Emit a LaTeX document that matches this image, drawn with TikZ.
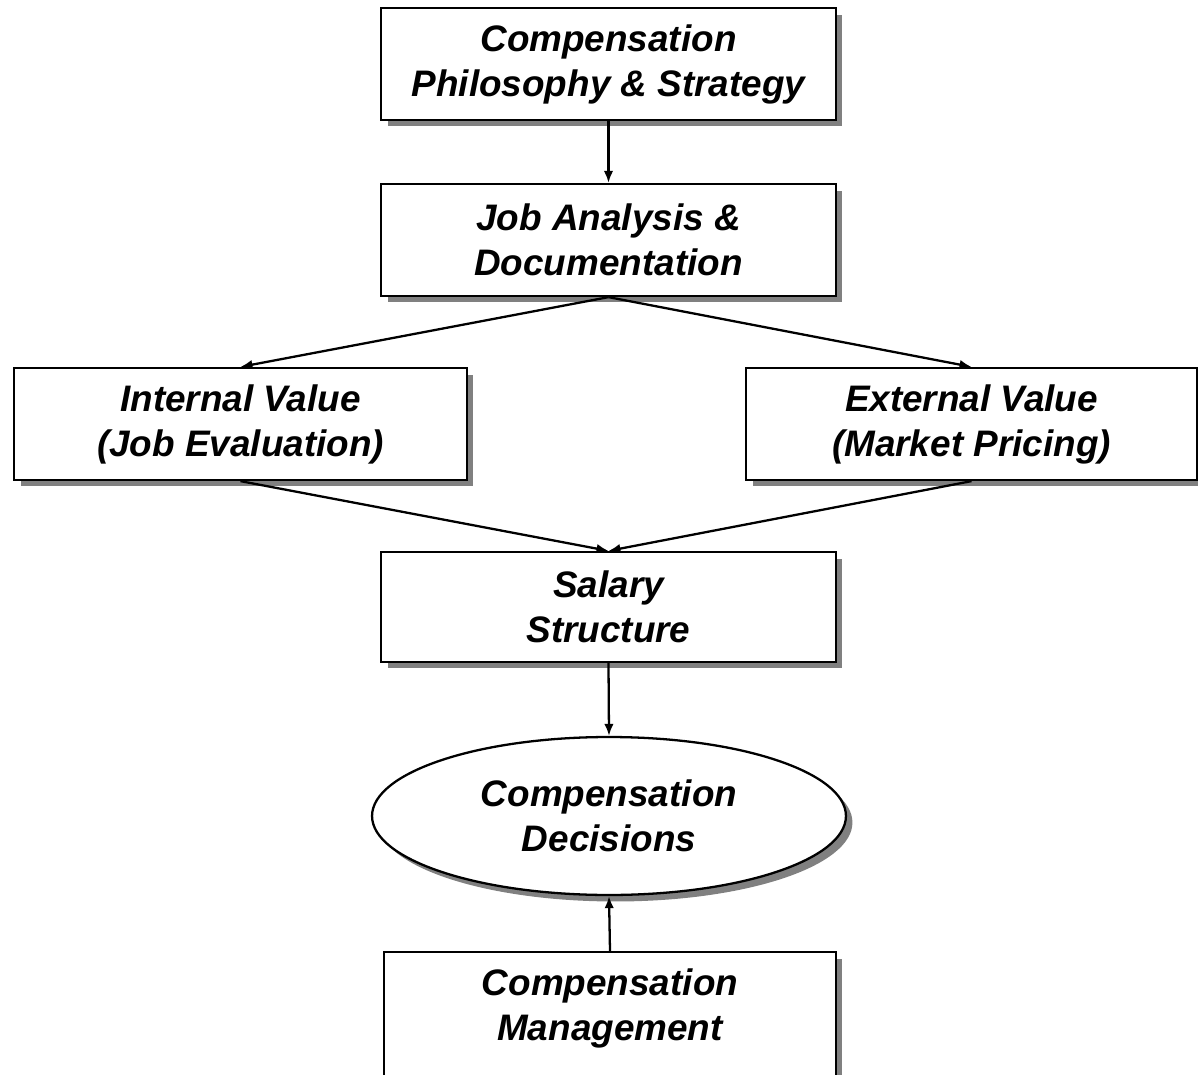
\documentclass[tikz,border=0pt]{standalone}
\usepackage{fontspec}
\setmainfont{Liberation Sans}
\usetikzlibrary{arrows.meta,shadows,shapes.geometric}
\definecolor{ShadowGray}{RGB}{128,128,128}

\begin{document}
\begin{tikzpicture}[x=0.02cm,y=-0.02cm,
    box/.style={draw,line width=1.3pt,fill=white,align=center,
      minimum width=9.1cm,minimum height=2.24cm,inner sep=0pt,
      font=\fontsize{21}{25.6}\selectfont\bfseries\itshape,
      drop shadow={shadow xshift=0.13cm,shadow yshift=-0.13cm,fill=ShadowGray,opacity=1}},
    link/.style={line width=1.3pt,-{Latex[length=0.24cm,width=0.19cm]}}]
  \useasboundingbox (0,0) rectangle (1198,1075);
  \clip (0,0) rectangle (1198,1075);
  \fill[white] (0,0) rectangle (1198,1075);

  % the chain of boxes, top to bottom
  \node[box] (philo) at (608.5,64) {Compensation\\Philosophy \& Strategy};
  \node[box] (jobana) at (608.5,240) {Job Analysis \&\\Documentation};
  \node[box,minimum width=9.06cm] (internal) at (240.5,424) {Internal Value\\(Job Evaluation)};
  \node[box,minimum width=9.02cm] (external) at (971.5,424) {External Value\\(Market Pricing)};
  \node[box,minimum height=2.2cm] (salary) at (608.5,607) {Salary\\Structure};
  \node[box,ellipse,minimum width=9.48cm,minimum height=3.16cm] (decide) at (609,816) {Compensation\\Decisions};
  % runs off the bottom edge
  \node[box,minimum width=9.04cm,minimum height=3.2cm] (mgmt) at (610,1032) {};
  \node[font=\fontsize{21}{25.6}\selectfont\bfseries\itshape,align=center] (mgmttext) at (610,1008) {Compensation\\Management};

  \draw[link] (philo.south) -- (jobana.north);
  \draw[link] (jobana.south) -- (internal.north);
  \draw[link] (jobana.south) -- (external.north);
  \draw[link] (internal.south) -- (salary.north);
  \draw[link] (external.south) -- (salary.north);
  \draw[link] (salary.south) -- (decide.north);
  \draw[link] (mgmt.north) -- (decide.south);
\end{tikzpicture}
\end{document}
